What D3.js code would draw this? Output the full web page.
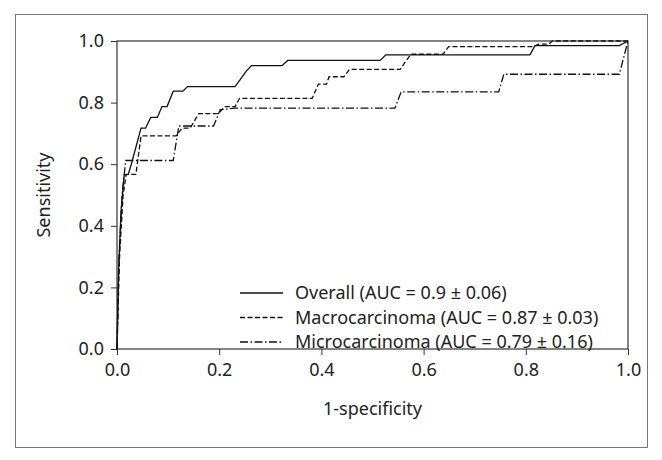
<!DOCTYPE html>
<html>
<head>
<meta charset="utf-8">
<script src="https://cdn.jsdelivr.net/npm/d3@7"></script>
<style>
  body { margin: 0; background: #fff; }
  text { font-family: "Noto Sans", sans-serif; fill: #222; }
</style>
</head>
<body>
<svg id="chart"></svg>
<script>
// ROC points: [1-specificity, sensitivity]
const overall = [[0,0],[0.003,0.25],[0.008,0.45],[0.014,0.565],[0.022,0.567],[0.028,0.6],[0.047,0.717],[0.056,0.717],[0.066,0.752],[0.079,0.752],[0.088,0.787],[0.098,0.787],[0.11,0.837],[0.129,0.837],[0.138,0.852],[0.231,0.852],[0.24,0.872],[0.253,0.902],[0.263,0.92],[0.323,0.92],[0.334,0.937],[0.515,0.937],[0.526,0.955],[0.808,0.955],[0.818,0.985],[0.983,0.985],[1,1]]
const macro = [[0,0],[0.005,0.3],[0.012,0.5],[0.018,0.567],[0.037,0.567],[0.047,0.692],[0.116,0.692],[0.127,0.717],[0.143,0.717],[0.16,0.764],[0.198,0.764],[0.211,0.787],[0.231,0.787],[0.24,0.814],[0.382,0.814],[0.394,0.86],[0.41,0.86],[0.415,0.884],[0.444,0.884],[0.455,0.908],[0.554,0.908],[0.575,0.957],[0.638,0.957],[0.649,0.982],[0.815,0.982],[0.825,0.99],[0.845,0.99],[0.852,1],[1,1]]
const micro = [[0,0],[0.004,0.3],[0.01,0.5],[0.017,0.612],[0.11,0.612],[0.121,0.724],[0.189,0.724],[0.202,0.777],[0.23,0.782],[0.544,0.782],[0.556,0.835],[0.747,0.835],[0.757,0.892],[0.983,0.892],[1,1]]

const seriesNames = ['Overall (AUC = 0.9 \u00b1 0.06)', 'Macrocarcinoma (AUC = 0.87 \u00b1 0.03)', 'Microcarcinoma (AUC = 0.79 \u00b1 0.16)']
const ticks = [0, 0.2, 0.4, 0.6, 0.8, 1.0]

const W = 662, H = 460
const margin = { top: 41, right: 34, bottom: 111, left: 117 }
const width = W - margin.left - margin.right
const height = H - margin.top - margin.bottom
const fontSize = 18

const svg = d3.select('#chart').attr('width', W).attr('height', H)

// outer frame
svg.append('rect')
    .attr('x', 15.5).attr('y', 14.5)
    .attr('width', 632).attr('height', 433)
    .attr('fill', 'none').attr('stroke', '#777').attr('stroke-width', 1)

const g = svg.append('g').attr('transform', `translate(${margin.left},${margin.top})`)

const x = d3.scaleLinear().domain([0, 1]).range([0, width])
const y = d3.scaleLinear().domain([0, 1]).range([height, 0])

const xAxis = d3.axisBottom(x).tickValues(ticks).tickFormat(d3.format('.1f')).tickSize(6).tickSizeOuter(0)
const yAxis = d3.axisLeft(y).tickValues(ticks).tickFormat(d3.format('.1f')).tickSize(6).tickSizeOuter(0)

const xg = g.append('g').attr('transform', `translate(0,${height})`).call(xAxis)
const yg = g.append('g').call(yAxis)
;[xg, yg].forEach(a => {
    a.select('.domain').remove()
    a.selectAll('line').attr('stroke', '#333')
    a.selectAll('text').attr('font-size', fontSize).attr('fill', '#222').style('font-family', '"Noto Sans", sans-serif')
})
xg.selectAll('text').attr('y', 14).attr('dy', '0.71em')
yg.selectAll('text').attr('x', -13)

// plot box
g.append('rect')
    .attr('x', 0).attr('y', 0).attr('width', width).attr('height', height)
    .attr('fill', 'none').attr('stroke', '#333').attr('stroke-width', 1.2)

const line = d3.line().x(d => x(d[0])).y(d => y(d[1]))
const dashes = [null, '5,2.5', '8,2.5,1.5,2.5']
const data = [overall, macro, micro]

g.selectAll('.roc')
    .data(data)
    .join('path')
    .attr('class', 'roc')
    .attr('d', line)
    .attr('fill', 'none')
    .attr('stroke', '#111')
    .attr('stroke-width', 1.3)
    .attr('stroke-dasharray', (d, i) => dashes[i])

// legend
const legend = g.append('g').attr('transform', 'translate(123,252)')
seriesNames.forEach((name, i) => {
    const row = legend.append('g').attr('transform', `translate(0,${i * 24.5})`)
    row.append('line')
        .attr('x1', 0).attr('x2', 43).attr('y1', 0).attr('y2', 0)
        .attr('stroke', '#111').attr('stroke-width', 1.3)
        .attr('stroke-dasharray', dashes[i])
    row.append('text')
        .attr('x', 55).attr('y', 0).attr('dy', '0.35em')
        .attr('font-size', fontSize)
        .text(name)
})

// axis titles
svg.append('text')
    .attr('x', margin.left + width / 2).attr('y', 415)
    .attr('text-anchor', 'middle').attr('font-size', fontSize)
    .text('1-specificity')
svg.append('text')
    .attr('transform', `translate(50,${margin.top + height / 2}) rotate(-90)`)
    .attr('text-anchor', 'middle').attr('font-size', fontSize)
    .text('Sensitivity')
</script>
</body>
</html>
